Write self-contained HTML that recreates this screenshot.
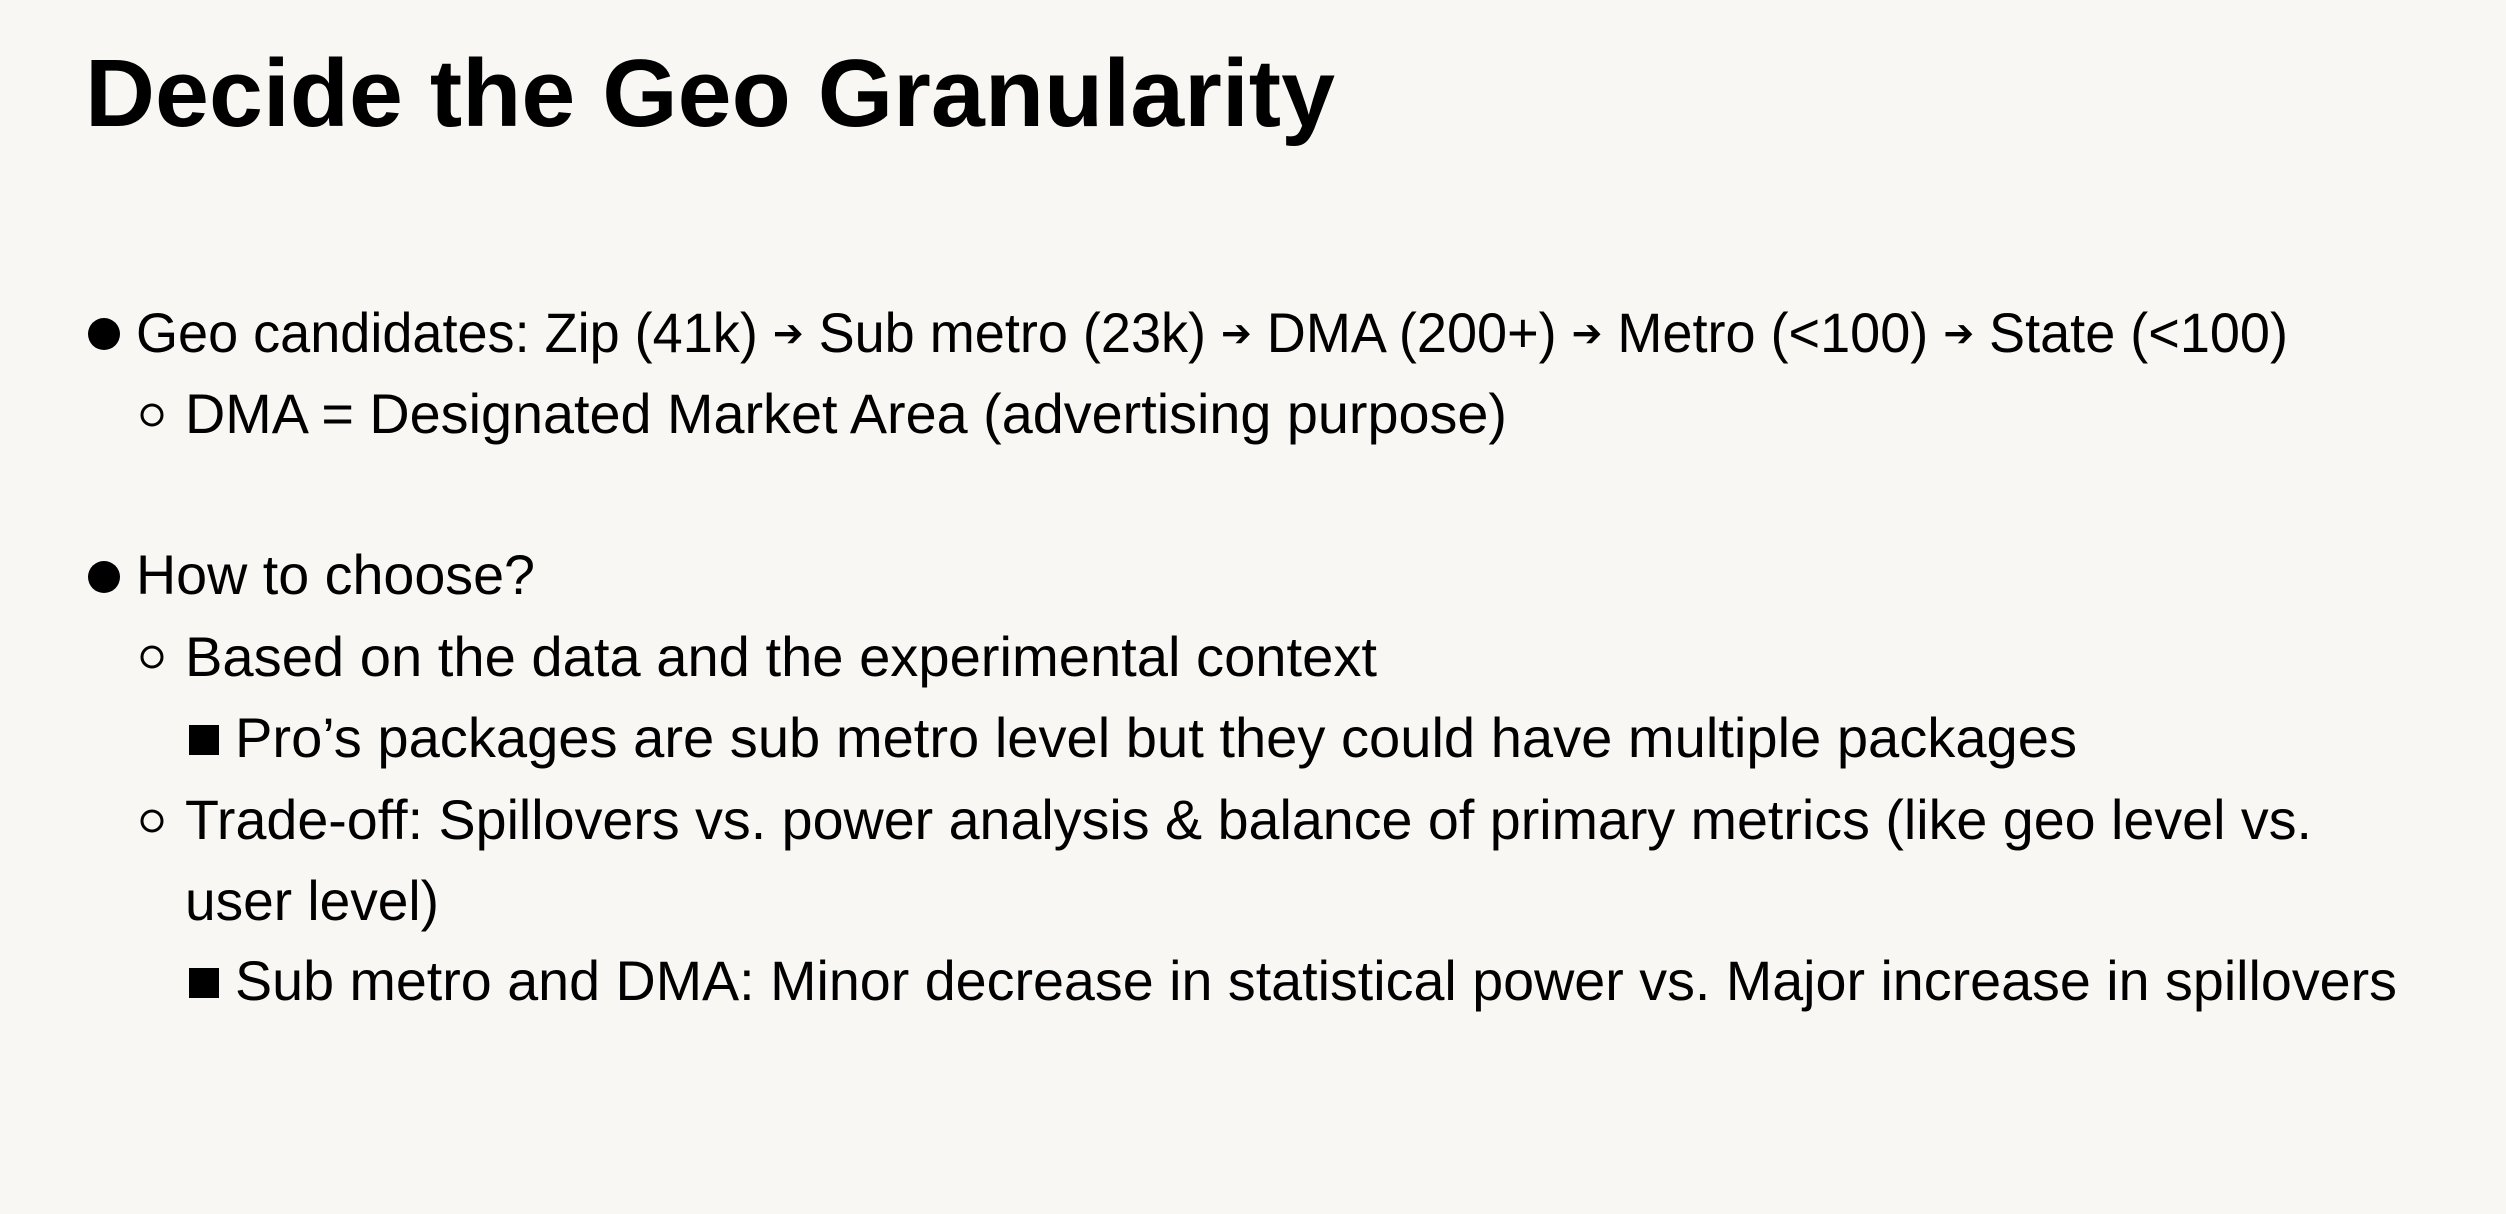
<!DOCTYPE html>
<html><head><meta charset="utf-8"><style>
html,body{margin:0;padding:0;background:#f8f7f3;}
svg{display:block;}
text{font-family:"Liberation Sans","DejaVu Sans",sans-serif;fill:#000;}
</style></head><body>
<svg width="2506" height="1214" viewBox="0 0 2506 1214">
<rect width="2506" height="1214" fill="#f8f7f3"/>
<text x="85" y="126" font-size="96" font-weight="bold" textLength="1250" lengthAdjust="spacingAndGlyphs">Decide the Geo Granularity</text>

<circle cx="104" cy="334" r="16" fill="#000"/>
<text x="136" y="352" font-size="56" textLength="2152" lengthAdjust="spacingAndGlyphs">Geo candidates: Zip (41k) <tspan font-size="38" dy="-6">➔</tspan><tspan dy="6"> Sub metro (23k) </tspan><tspan font-size="38" dy="-6">➔</tspan><tspan dy="6"> DMA (200+) </tspan><tspan font-size="38" dy="-6">➔</tspan><tspan dy="6"> Metro (&lt;100) </tspan><tspan font-size="38" dy="-6">➔</tspan><tspan dy="6"> State (&lt;100)</tspan></text>

<circle cx="152" cy="415" r="10" fill="none" stroke="#000" stroke-width="3"/>
<text x="185" y="433" font-size="56" textLength="1322" lengthAdjust="spacingAndGlyphs">DMA = Designated Market Area (advertising purpose)</text>

<circle cx="104" cy="577" r="16" fill="#000"/>
<text x="136" y="594" font-size="56" textLength="399" lengthAdjust="spacingAndGlyphs">How to choose?</text>

<circle cx="152" cy="657" r="10" fill="none" stroke="#000" stroke-width="3"/>
<text x="185" y="676" font-size="56" textLength="1192" lengthAdjust="spacingAndGlyphs">Based on the data and the experimental context</text>

<rect x="189" y="725" width="30" height="30" fill="#000"/>
<text x="235" y="757" font-size="56" textLength="1842" lengthAdjust="spacingAndGlyphs">Pro’s packages are sub metro level but they could have multiple packages</text>

<circle cx="152" cy="821" r="10" fill="none" stroke="#000" stroke-width="3"/>
<text x="185" y="839" font-size="56" textLength="2127" lengthAdjust="spacingAndGlyphs">Trade-off: Spillovers vs. power analysis &amp; balance of primary metrics (like geo level vs.</text>
<text x="185" y="920" font-size="56" textLength="254" lengthAdjust="spacingAndGlyphs">user level)</text>

<rect x="189" y="968" width="30" height="30" fill="#000"/>
<text x="235" y="1000" font-size="56" textLength="2162" lengthAdjust="spacingAndGlyphs">Sub metro and DMA: Minor decrease in statistical power vs. Major increase in spillovers</text>
</svg>
</body></html>
